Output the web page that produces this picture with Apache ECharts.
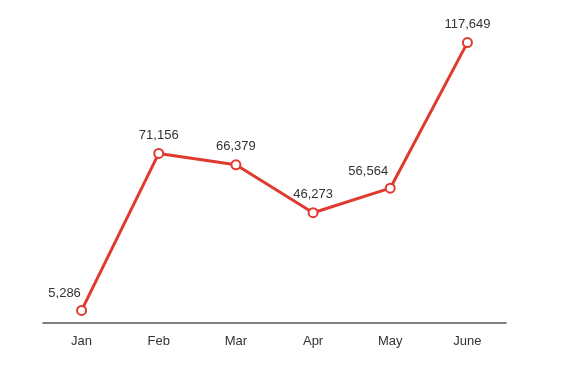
<!DOCTYPE html>
<html>
<head>
<meta charset="utf-8">
<script src="https://cdn.jsdelivr.net/npm/echarts@6/dist/echarts.min.js"></script>
<style>html,body{margin:0;padding:0;background:#fff}#c{width:578px;height:365px}</style>
</head>
<body>
<div id="c"></div>
<script>
var categories = ['Jan', 'Feb', 'Mar', 'Apr', 'May', 'June'];
var values = [5286, 71156, 66379, 46273, 56564, 117649];

var chart = echarts.init(document.getElementById('c'), null, {renderer: 'canvas'});
var labelShift = {0: [-17, 1], 4: [-22, 1]};
var data = values.map(function (v, i) {
  var d = {value: v};
  if (labelShift[i]) d.label = {offset: labelShift[i]};
  return d;
});
chart.setOption({
  animation: false,
  grid: {left: 43, right: 72, top: 37, bottom: 42},
  xAxis: {
    type: 'category',
    data: categories,
    boundaryGap: true,
    axisLine: {lineStyle: {color: '#555', width: 1.5}},
    axisTick: {show: false},
    axisLabel: {color: '#333', fontSize: 13, fontFamily: 'Liberation Sans', margin: 12}
  },
  yAxis: {type: 'value', min: 0, max: 120000, show: false, splitLine: {show: false}},
  series: [{
    type: 'line',
    data: data,
    symbol: 'emptyCircle',
    symbolSize: 9,
    itemStyle: {color: '#e0392e', borderWidth: 2.5},
    lineStyle: {color: '#e0392e', width: 3},
    label: {
      show: true, position: 'top', distance: 6, color: '#333', fontSize: 13,
      fontFamily: 'Liberation Sans',
      formatter: function (p) { return p.value.toLocaleString('en-US'); }
    }
  }]
});
</script>
</body>
</html>
